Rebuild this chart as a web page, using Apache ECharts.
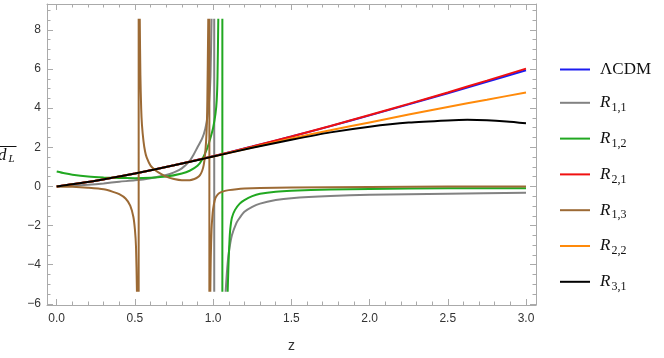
<!DOCTYPE html>
<html>
<head>
<meta charset="utf-8">
<script src="https://cdn.jsdelivr.net/npm/echarts@6/dist/echarts.min.js"></script>
<style>
  html, body { margin: 0; padding: 0; background: #fff; }
  #dl { width: 664px; height: 358px; }
</style>
</head>
<body>
<div id="dl"></div>
<script>
// tick labels
var zTicks = [0, 0.5, 1, 1.5, 2, 2.5, 3]
var dTicks = [-6, -4, -2, 0, 2, 4, 6, 8]

// visible limits of the curves (plot range, frame is padded beyond it)
var clipTop = 8.57
var clipBot = -5.38

// [z, d_L] pairs
var lcdm = [[0, 0], [0.25, 0.294], [0.5, 0.662], [0.75, 1.082], [1, 1.543], [1.25, 2.034], [1.5, 2.547],
  [1.75, 3.081], [2, 3.629], [2.25, 4.19], [2.5, 4.763], [2.75, 5.345], [3, 5.936]]
var r21 = [[0, 0], [0.25, 0.294], [0.5, 0.662], [0.75, 1.082], [1, 1.543], [1.25, 2.036], [1.5, 2.552],
  [1.75, 3.09], [2, 3.645], [2.25, 4.215], [2.5, 4.8], [2.75, 5.405], [3, 6.02]]
var r22 = [[0, 0], [0.25, 0.294], [0.5, 0.662], [0.75, 1.08], [1, 1.53], [1.25, 1.99], [1.5, 2.45],
  [1.75, 2.87], [2, 3.27], [2.25, 3.67], [2.5, 4.06], [2.75, 4.43], [3, 4.8]]
var r31 = [[0, 0], [0.25, 0.294], [0.5, 0.661], [0.75, 1.078], [1, 1.53], [1.25, 1.97], [1.5, 2.38],
  [1.75, 2.76], [2, 3.05], [2.25, 3.26], [2.5, 3.37], [2.625, 3.4], [2.75, 3.38], [2.875, 3.32], [3, 3.23]]

var r11Left = [[0, 0], [0.1, 0.03], [0.2, 0.08], [0.3, 0.15], [0.4, 0.24], [0.5, 0.31], [0.6, 0.42],
  [0.7, 0.58], [0.75, 0.72], [0.8, 0.92], [0.85, 1.3], [0.875, 1.62], [0.9, 2.0], [0.93, 2.45],
  [0.95, 2.95], [0.965, 3.6], [0.975, 4.4], [0.983, 5.6], [0.99, 8.57]]
var r11Pole = 1.007
var r11Right = [[1.08, -5.38], [1.09, -4.2], [1.1, -3.4], [1.12, -2.5], [1.15, -1.85], [1.17, -1.6],
  [1.2, -1.3], [1.25, -1.05], [1.3, -0.88], [1.4, -0.7], [1.5, -0.6], [1.75, -0.49], [2, -0.43],
  [2.5, -0.37], [3, -0.33]]

var r12Left = [[0, 0.76], [0.05, 0.67], [0.1, 0.6], [0.2, 0.51], [0.3, 0.46], [0.4, 0.43], [0.5, 0.42],
  [0.6, 0.44], [0.7, 0.5], [0.8, 0.66], [0.85, 0.8], [0.9, 1.05], [0.93, 1.38], [0.96, 1.9],
  [0.98, 2.4], [1.0, 3.0], [1.015, 3.7], [1.023, 4.4], [1.028, 5.6], [1.033, 8.57]]
var r12Pole = 1.059
var r12Right = [[1.093, -5.38], [1.097, -4.3], [1.1, -3.6], [1.105, -2.7], [1.11, -2.15], [1.12, -1.6],
  [1.14, -1.2], [1.17, -0.88], [1.2, -0.7], [1.25, -0.5], [1.3, -0.38], [1.4, -0.27], [1.5, -0.22],
  [1.75, -0.16], [2, -0.13], [2.5, -0.1], [3, -0.09]]

var r13Left = [[0, 0], [0.1, -0.02], [0.2, -0.07], [0.3, -0.15], [0.36, -0.28], [0.4, -0.4],
  [0.44, -0.62], [0.47, -0.98], [0.49, -1.55], [0.5, -2.2], [0.507, -3.1], [0.513, -5.38]]
var r13Pole1 = 0.524
var r13Mid = [[0.531, 8.57], [0.535, 5.7], [0.54, 4.0], [0.545, 3.15], [0.555, 2.3], [0.565, 1.78],
  [0.575, 1.48], [0.6, 1.06], [0.625, 0.86], [0.65, 0.72], [0.7, 0.5], [0.75, 0.38], [0.8, 0.32],
  [0.85, 0.32], [0.88, 0.38], [0.9, 0.46], [0.917, 0.59], [0.93, 0.8], [0.94, 1.1], [0.948, 1.6],
  [0.955, 2.3], [0.96, 3.2], [0.963, 4.4], [0.969, 8.57]]
var r13Pole2 = 0.976
var r13Right = [[0.982, -5.38], [0.985, -3.6], [0.99, -2.2], [0.995, -1.55], [1.0, -1.15], [1.01, -0.72],
  [1.02, -0.52], [1.04, -0.34], [1.07, -0.24], [1.1, -0.19], [1.15, -0.14], [1.2, -0.11], [1.3, -0.08],
  [1.5, -0.05], [2, -0.03], [2.5, -0.01], [3, 0.0]]

var frameColor = '#aaaaaa'
var labelColor = '#333333'

// one line broken into pieces (null point between them)
function pieces() {
  var out = []
  for (var i = 0; i < arguments.length; i++) {
    if (i > 0) out.push([arguments[i][0][0], null])
    out = out.concat(arguments[i])
  }
  return out
}
function poleUp(z) { return [[z, clipBot], [z, clipTop]] }
function poleDown(z) { return [[z, clipTop], [z, clipBot]] }

var curves = [
  { name: 'LCDM', color: '#1c1cf0', data: lcdm },
  { name: 'R11', color: '#828282', data: pieces(r11Left, poleDown(r11Pole), r11Right) },
  { name: 'R12', color: '#21a821', data: pieces(r12Left, poleDown(r12Pole), r12Right) },
  { name: 'R21', color: '#f01010', data: r21 },
  { name: 'R13', color: '#9c6a35', data: pieces(r13Left, poleUp(r13Pole1), r13Mid, poleDown(r13Pole2), r13Right) },
  { name: 'R22', color: '#ff8a0a', data: r22 },
  { name: 'R31', color: '#000000', data: r31 }
]
var legendText = {
  LCDM: '{n|ΛCDM}',
  R11: '{r|R}{s|1,1}',
  R12: '{r|R}{s|1,2}',
  R21: '{r|R}{s|2,1}',
  R13: '{r|R}{s|1,3}',
  R22: '{r|R}{s|2,2}',
  R31: '{r|R}{s|3,1}'
}

var zMin = -0.062
var zMax = 3.064
var dMin = -6.06
var dMax = 9.32

var zMinor = []
for (var i = -1; i <= 31; i++) {
  var v = i / 10
  if (i % 5 !== 0 && v > zMin && v < zMax) zMinor.push(v)
}
var dMinor = []
for (var j = -12; j <= 18; j++) {
  var w = j / 2
  if (j % 4 !== 0 && w > dMin && w < dMax) dMinor.push(w)
}

function frameAxis(pos, min, max, ticks, len, withLine, labels) {
  return {
    type: 'value',
    position: pos,
    min: min,
    max: max,
    axisLine: { show: withLine, onZero: false, lineStyle: { color: frameColor, width: 1 } },
    axisTick: { show: true, inside: true, length: len, customValues: ticks, lineStyle: { color: frameColor, width: 1 } },
    axisLabel: labels || { show: false },
    splitLine: { show: false }
  }
}

var xMainAxis = frameAxis('bottom', zMin, zMax, zTicks, 6, true, {
  show: true,
  customValues: zTicks,
  margin: 8,
  color: labelColor,
  fontFamily: 'Liberation Sans',
  fontSize: 12,
  formatter: function(v) { return v.toFixed(1) }
})
xMainAxis.name = 'z'
xMainAxis.nameLocation = 'middle'
xMainAxis.nameGap = 34
xMainAxis.nameTextStyle = { color: labelColor, fontFamily: 'Liberation Sans', fontSize: 14 }

var yMainAxis = frameAxis('left', dMin, dMax, dTicks, 6, true, {
  show: true,
  customValues: dTicks,
  margin: 6,
  color: labelColor,
  fontFamily: 'Liberation Sans',
  fontSize: 12,
  formatter: function(v) { return v < 0 ? '\u2212' + Math.abs(v) : String(v) }
})

var option = {
  animation: false,
  backgroundColor: '#fff',
  grid: { left: 47, right: 128, top: 4, bottom: 53, containLabel: false },
  xAxis: [
    xMainAxis,
    frameAxis('bottom', zMin, zMax, zMinor, 3.5, false),
    frameAxis('top', zMin, zMax, zTicks, 6, true),
    frameAxis('top', zMin, zMax, zMinor, 3.5, false)
  ],
  yAxis: [
    yMainAxis,
    frameAxis('left', dMin, dMax, dMinor, 3.5, false),
    frameAxis('right', dMin, dMax, dTicks, 6, true),
    frameAxis('right', dMin, dMax, dMinor, 3.5, false)
  ],
  legend: {
    orient: 'vertical',
    left: 560,
    top: 61,
    padding: 0,
    icon: 'rect',
    itemWidth: 30,
    itemHeight: 2,
    itemGap: 13.8,
    data: curves.map(function(c) { return c.name }),
    formatter: function(name) { return legendText[name] },
    textStyle: {
      color: '#111',
      rich: {
        n: { fontFamily: 'Liberation Serif', fontSize: 17, padding: [0, 0, 0, 5], lineHeight: 22 },
        r: { fontFamily: 'Liberation Serif', fontStyle: 'italic', fontSize: 17, padding: [0, 0, 0, 5], lineHeight: 22 },
        s: { fontFamily: 'Liberation Serif', fontSize: 12, padding: [10, 0, 0, 1], lineHeight: 12 }
      }
    }
  },
  graphic: [
    {
      type: 'text', x: -2, y: 147,
      style: { text: 'd', fontFamily: 'Liberation Serif', fontStyle: 'italic', fontSize: 17, fill: '#111', verticalAlign: 'top' }
    },
    {
      type: 'text', x: 8.5, y: 154,
      style: { text: 'L', fontFamily: 'Liberation Serif', fontStyle: 'italic', fontSize: 11, fill: '#111', verticalAlign: 'top' }
    },
    { type: 'line', shape: { x1: 0, y1: 146.5, x2: 16.5, y2: 146.5 }, style: { stroke: '#111', lineWidth: 1 } }
  ],
  series: curves.map(function(c) {
    return {
      name: c.name,
      type: 'line',
      data: c.data,
      symbol: 'none',
      showSymbol: false,
      smooth: 0.25,
      connectNulls: false,
      clip: true,
      color: c.color,
      lineStyle: { color: c.color, width: 2 }
    }
  })
}

var dlChart = echarts.init(document.getElementById('dl'))
dlChart.setOption(option)
</script>
</body>
</html>
